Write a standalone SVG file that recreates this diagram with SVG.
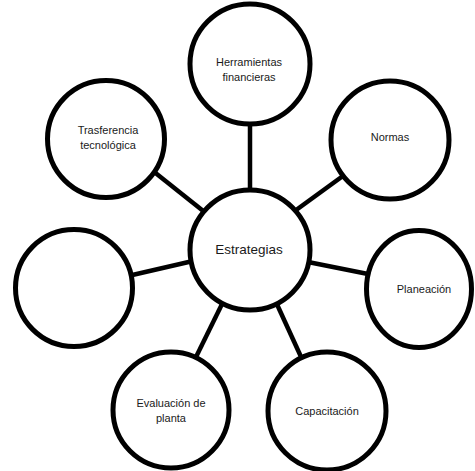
<svg xmlns="http://www.w3.org/2000/svg" width="475" height="471" viewBox="0 0 475 471">
<style>
.c{fill:#fff;stroke:#000;stroke-width:5}
.l{stroke:#000;stroke-width:4.5;fill:none}
text{font-family:"Liberation Sans",Arial,sans-serif;font-size:11px;fill:#1a1a1a;text-anchor:middle}
.big{font-size:13.5px}
</style>
<rect width="475" height="471" fill="#fff"/>
<g id="connectors">
<line class="l" x1="250" y1="118" x2="250" y2="192"/>
<line class="l" x1="347" y1="173" x2="292" y2="213"/>
<line class="l" x1="153" y1="171" x2="207" y2="214"/>
<line class="l" x1="128" y1="276" x2="193" y2="261"/>
<line class="l" x1="303" y1="261" x2="368" y2="274"/>
<line class="l" x1="224" y1="300" x2="196" y2="357"/>
<line class="l" x1="275" y1="300" x2="302" y2="359"/>
</g>
<g id="estrategias"><circle class="c" cx="250" cy="250" r="60"/><text class="big" x="249" y="254">Estrategias</text></g>
<g id="herramientas"><circle class="c" cx="250" cy="64" r="60"/><text x="249" y="66">Herramientas</text><text x="249" y="81">financieras</text></g>
<g id="normas"><circle class="c" cx="390" cy="140" r="59"/><text x="390" y="141">Normas</text></g>
<g id="trasferencia"><circle class="c" cx="106" cy="139" r="58.5"/><text x="108" y="134">Trasferencia</text><text x="108" y="149">tecnológica</text></g>
<g id="vacio"><circle class="c" cx="74" cy="288" r="58.5"/></g>
<g id="planeacion"><ellipse class="c" cx="419" cy="289" rx="52.5" ry="58.5"/><text x="424" y="293">Planeación</text></g>
<g id="evaluacion"><circle class="c" cx="171" cy="410" r="58"/><text x="171" y="407">Evaluación de</text><text x="171" y="422">planta</text></g>
<g id="capacitacion"><circle class="c" cx="327" cy="411" r="59"/><text x="327" y="415">Capacitación</text></g>
</svg>
